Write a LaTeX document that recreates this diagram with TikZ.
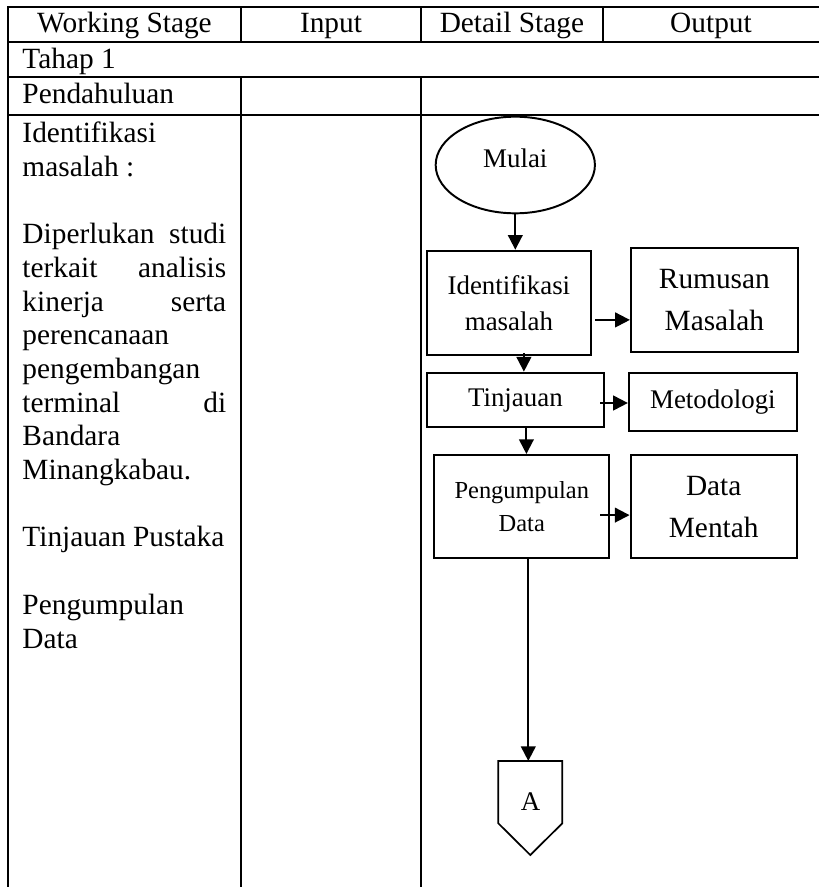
\documentclass[tikz,border=0pt]{standalone}
\usepackage{fontspec}
\setmainfont{Liberation Serif}
\usetikzlibrary{arrows.meta,positioning,calc,shapes.geometric}
\tikzset{
  tabline/.style={line width=0.8pt, draw=black},
  hdr/.style={anchor=base, inner sep=0pt, font=\fontsize{12}{13.8}\selectfont},
  cell/.style={anchor=base west, inner sep=0pt, font=\fontsize{12}{13.8}\selectfont},
  jcell/.style={cell, text width=83.3pt, align=left},
  term/.style={ellipse, draw=black, line width=0.8pt, inner sep=0pt,
    font=\fontsize{11}{13}\selectfont},
  proc/.style={rectangle, draw=black, line width=0.9pt, inner sep=2pt, align=center,
    font=\fontsize{11}{14.7}\selectfont},
  outbox/.style={proc, font=\fontsize{12}{17.2}\selectfont},
  offpg/.style={draw=black, line width=0.7pt},
  flow/.style={-{Triangle[length=6pt,width=6pt]}, line width=0.8pt, draw=black},
}
\begin{document}
\begin{tikzpicture}[x=0.4088pt, y=-0.4088pt]
  \useasboundingbox (0,0) rectangle (819,887);
  % table frame
  \foreach \y in {7.3, 41.7, 77, 115}
    \draw[tabline] (7.2,\y) -- (820,\y);
  \draw[tabline] (8,6.9) -- (8,888);
  \draw[tabline] (241,6.9) -- (241,41.7);
  \draw[tabline] (241,77) -- (241,888);
  \draw[tabline] (421,6.9) -- (421,41.7);
  \draw[tabline] (421,77) -- (421,888);
  \draw[tabline] (602.7,6.9) -- (602.7,41.7);
  % header row
  \node[hdr] (hws) at (124.5,32.5) {Working Stage};
  \node[hdr] (hin) at (331,32.5) {Input};
  \node[hdr] (hds) at (511.9,32.5) {Detail Stage};
  \node[hdr] (hout) at (711,32.5) {Output};
  \node[cell] (tahap) at (22,68) {Tahap 1};
  \node[cell] (pend) at (22,103.5) {Pendahuluan};
  % working stage column
  \foreach \k/\t in {1/Identifikasi, 2/masalah :, 7/perencanaan, 8/pengembangan,
      10/Bandara, 11/Minangkabau., 13/Tinjauan Pustaka, 15/Pengumpulan, 16/Data}
    \node[cell] (ws\k) at (22,{142.5+33.7*(\k-1)}) {\t};
  \foreach \k/\t in {4/Diperlukan\hfill studi, 5/terkait\hfill analisis,
      6/kinerja\hfill serta, 9/terminal\hfill di}
    \node[jcell] (ws\k) at (22,{142.5+33.7*(\k-1)}) {\t};
  % detail stage flow
  \node[term, minimum width=65.1pt, minimum height=39.5pt, text depth=6pt] (mulai) at (515.3,165) {Mulai};
  \node[proc, minimum width=67.2pt, minimum height=42.6pt] (idm) at (508.9,302.9) {Identifikasi\\masalah};
  \node[outbox, minimum width=68.2pt, minimum height=42.5pt] (rum) at (714.4,300.3) {Rumusan\\Masalah};
  \node[proc, minimum width=72.5pt, minimum height=22.3pt] (tinj) at (515.4,400) {Tinjauan};
  \node[proc, minimum width=68.6pt, minimum height=23.7pt] (met) at (712.9,401.7) {Metodologi};
  \node[proc, minimum width=71.5pt, minimum height=42.2pt, font=\fontsize{10}{13.7}\selectfont] (peng) at (521.8,506.7) {Pengumpulan\\Data};
  \node[outbox, minimum width=67.9pt, minimum height=42.2pt] (dm) at (713.7,506.7) {Data\\Mentah};
  % off-page connector
  \draw[offpg] (498.3,761) -- (562.3,761) -- (562.3,823.3) -- (530.3,855) -- (498.3,823.3) -- cycle;
  \node[inner sep=0pt, font=\fontsize{11}{13}\selectfont] (conA) at (530.5,801.7) {A};
  \coordinate (conAtop) at (530.3,761);
  % connectors
  \draw[flow] (mulai.south) -- (mulai.south |- idm.north);
  \coordinate (a1) at ($(idm.east)+(3,17)$);
  \draw[flow] (a1) -- (a1 -| rum.west);
  \coordinate (a2) at ($(idm.south)+(15,-3)$);
  \draw[flow] (a2) -- (a2 |- tinj.north);
  \coordinate (a3) at ($(tinj.east)+(-5,3)$);
  \draw[flow] (a3) -- (a3 -| met.west);
  \coordinate (a4) at ($(tinj.south)+(11,0)$);
  \draw[flow] (a4) -- (a4 |- peng.north);
  \coordinate (a5) at ($(peng.east)+(-10,8.4)$);
  \draw[flow] (a5) -- (a5 -| dm.west);
  \coordinate (a6) at ($(peng.south)+(6.5,0)$);
  \draw[flow] (a6) -- (a6 |- conAtop);
\end{tikzpicture}
\end{document}
